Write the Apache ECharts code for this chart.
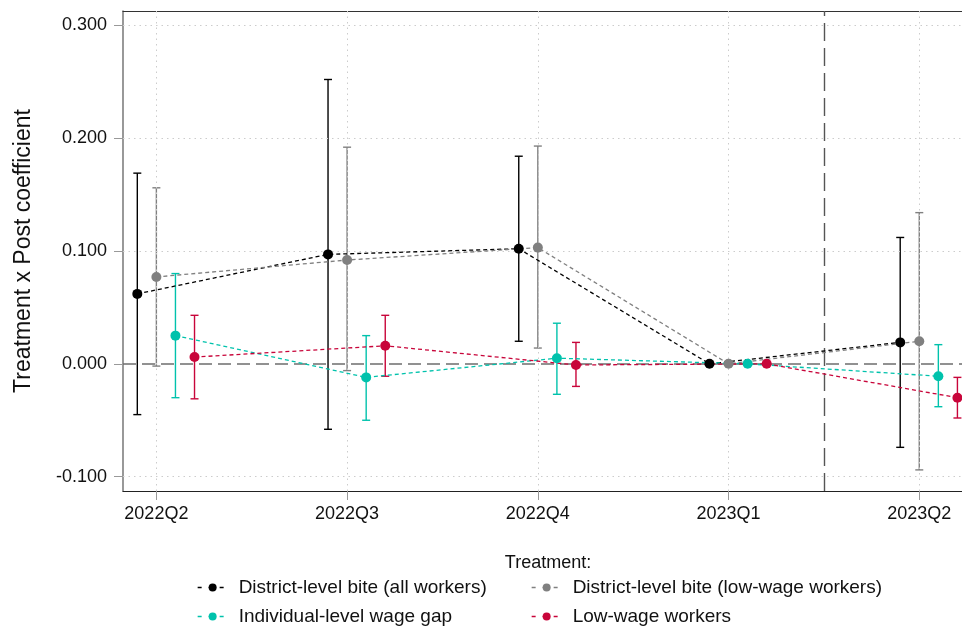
<!DOCTYPE html>
<html>
<head>
<meta charset="utf-8">
<script src="https://cdn.jsdelivr.net/npm/echarts@6/dist/echarts.min.js"></script>
<style>
  html, body { margin: 0; padding: 0; background: #fff; }
  #chart { width: 962px; height: 628px; }
</style>
</head>
<body>
<div id="chart"></div>
<script>
// Quarters on the x axis (2023Q1 is the reference period)
const quarters = ['2022Q2', '2022Q3', '2022Q4', '2023Q1', '2023Q2'];

// Point estimates and confidence bounds for each treatment definition
const allWorkersEst = [0.062, 0.097, 0.102, 0, 0.019];
const allWorkersLo  = [-0.045, -0.058, 0.020, null, -0.074];
const allWorkersHi  = [0.169, 0.252, 0.184, null, 0.112];

const lowWageBiteEst = [0.077, 0.092, 0.103, 0, 0.020];
const lowWageBiteLo  = [-0.002, -0.006, 0.014, null, -0.094];
const lowWageBiteHi  = [0.156, 0.192, 0.193, null, 0.134];

const wageGapEst = [0.025, -0.012, 0.005, 0, -0.011];
const wageGapLo  = [-0.030, -0.050, -0.027, null, -0.038];
const wageGapHi  = [0.080, 0.025, 0.036, null, 0.017];

const lowWageEst = [0.006, 0.016, -0.001, 0, -0.030];
const lowWageLo  = [-0.031, -0.011, -0.020, null, -0.048];
const lowWageHi  = [0.043, 0.043, 0.019, null, -0.012];

const yTicks = [-0.1, 0, 0.1, 0.2, 0.3];
const treatmentStart = 4.5;   // between 2023Q1 and 2023Q2

const seriesNames = [
  'District-level bite (all workers)',
  'District-level bite (low-wage workers)',
  'Individual-level wage gap',
  'Low-wage workers'
];
const seriesColors = ['#000000', '#808080', '#00C2AC', '#C8053A'];
const dodge = [-0.1, 0, 0.1, 0.2];

const groups = [
  [allWorkersEst, allWorkersLo, allWorkersHi],
  [lowWageBiteEst, lowWageBiteLo, lowWageBiteHi],
  [wageGapEst, wageGapLo, wageGapHi],
  [lowWageEst, lowWageLo, lowWageHi]
];

const FONT = '"Liberation Sans", Arial, Helvetica, sans-serif';
const xIdx = quarters.map((q, i) => i + 1);
const X_MIN = 0.825, X_MAX = 5.224;

const series = [];

// Reference lines: dotted grid, dashed zero line, dashed treatment marker
series.push({
  type: 'line',
  name: '__ref',
  data: [],
  silent: true,
  z: 1,
  markLine: {
    silent: true,
    symbol: 'none',
    label: { show: false },
    animation: false,
    data: [
      ...xIdx.map(v => ({ xAxis: v, lineStyle: { color: '#cccccc', width: 1, type: [1.5, 4] } })),
      ...yTicks.filter(v => v !== 0).map(v => ({ yAxis: v, lineStyle: { color: '#cccccc', width: 1, type: [1.5, 4] } })),
      { yAxis: 0, lineStyle: { color: '#6e6e6e', width: 1.6, type: [13, 6] } },
      { xAxis: treatmentStart, lineStyle: { color: '#555555', width: 1.4, type: [18, 7] } }
    ]
  }
});

groups.forEach((g, k) => {
  const [est, lo, hi] = g;
  const color = seriesColors[k];
  // confidence intervals
  series.push({
    type: 'custom',
    name: seriesNames[k] + ' CI',
    z: 3,
    silent: true,
    data: est.map((e, i) => lo[i] == null ? null : [xIdx[i] + dodge[k], lo[i], hi[i]]).filter(d => d),
    encode: { x: 0, y: [1, 2] },
    renderItem: function (params, api) {
      const x = api.value(0);
      const a = api.coord([x, api.value(1)]);
      const b = api.coord([x, api.value(2)]);
      const cap = 4;
      const style = { stroke: color, lineWidth: 1.4 };
      return {
        type: 'group',
        children: [
          { type: 'line', shape: { x1: a[0], y1: a[1], x2: b[0], y2: b[1] }, style },
          { type: 'line', shape: { x1: a[0] - cap, y1: a[1], x2: a[0] + cap, y2: a[1] }, style },
          { type: 'line', shape: { x1: b[0] - cap, y1: b[1], x2: b[0] + cap, y2: b[1] }, style }
        ]
      };
    }
  });
  // point estimates joined by a dashed line
  series.push({
    type: 'line',
    name: seriesNames[k],
    z: 5,
    data: est.map((e, i) => [xIdx[i] + dodge[k], e]),
    symbol: 'circle',
    symbolSize: 10,
    showSymbol: true,
    itemStyle: { color: color },
    lineStyle: { color: color, width: 1.3, type: [4, 3] },
    emphasis: { disabled: true },
    animation: false
  });
});

const legendBase = {
  orient: 'vertical',
  top: 578,
  height: 60,
  padding: 0,
  itemGap: 10,
  itemWidth: 30,
  itemHeight: 10,
  selectedMode: false,
  lineStyle: { type: [4, 7], width: 1.3 },
  textStyle: { fontFamily: FONT, fontSize: 19, color: '#111', padding: [0, 0, 0, 6] }
};

const option = {
  backgroundColor: '#ffffff',
  animation: false,
  textStyle: { fontFamily: FONT },
  grid: { left: 123, top: 11, right: 0, bottom: 137 },
  xAxis: [{
    type: 'value',
    min: X_MIN,
    max: X_MAX,
    splitLine: { show: false },
    axisLine: { show: true, onZero: false, lineStyle: { color: '#222', width: 1.2 } },
    axisTick: { show: true, customValues: xIdx, length: 9, lineStyle: { color: '#999', width: 1 } },
    axisLabel: {
      customValues: xIdx,
      margin: 14,
      fontSize: 18,
      fontFamily: FONT,
      color: '#111',
      formatter: v => quarters[Math.round(v) - 1] || ''
    }
  }, {
    // top frame line of the panel
    type: 'value',
    position: 'top',
    min: X_MIN,
    max: X_MAX,
    splitLine: { show: false },
    axisTick: { show: false },
    axisLabel: { show: false },
    axisLine: { show: true, onZero: false, lineStyle: { color: '#333', width: 1.2 } }
  }],
  yAxis: {
    type: 'value',
    min: -0.1127,
    max: 0.3127,
    name: 'Treatment x Post coefficient',
    nameLocation: 'middle',
    nameRotate: 90,
    nameGap: 88,
    nameTextStyle: { fontSize: 23, fontFamily: FONT, color: '#111' },
    splitLine: { show: false },
    axisLine: { show: true, lineStyle: { color: '#7f7f7f', width: 1.6 } },
    axisTick: { show: true, customValues: yTicks, length: 9, lineStyle: { color: '#999', width: 1 } },
    axisLabel: {
      customValues: yTicks,
      margin: 16,
      fontSize: 18,
      fontFamily: FONT,
      color: '#111',
      formatter: v => v.toFixed(3)
    }
  },
  legend: [
    Object.assign({}, legendBase, { left: 197, data: [seriesNames[0], seriesNames[2]] }),
    Object.assign({}, legendBase, { left: 531, data: [seriesNames[1], seriesNames[3]] })
  ],
  graphic: [{
    type: 'text',
    x: 548,
    y: 563,
    style: {
      text: 'Treatment:',
      fontSize: 18,
      fontFamily: FONT,
      fill: '#111',
      align: 'center',
      verticalAlign: 'middle'
    }
  }],
  series: series
};

const chart = echarts.init(document.getElementById('chart'), null, { renderer: 'canvas' });
chart.setOption(option);
</script>
</body>
</html>
